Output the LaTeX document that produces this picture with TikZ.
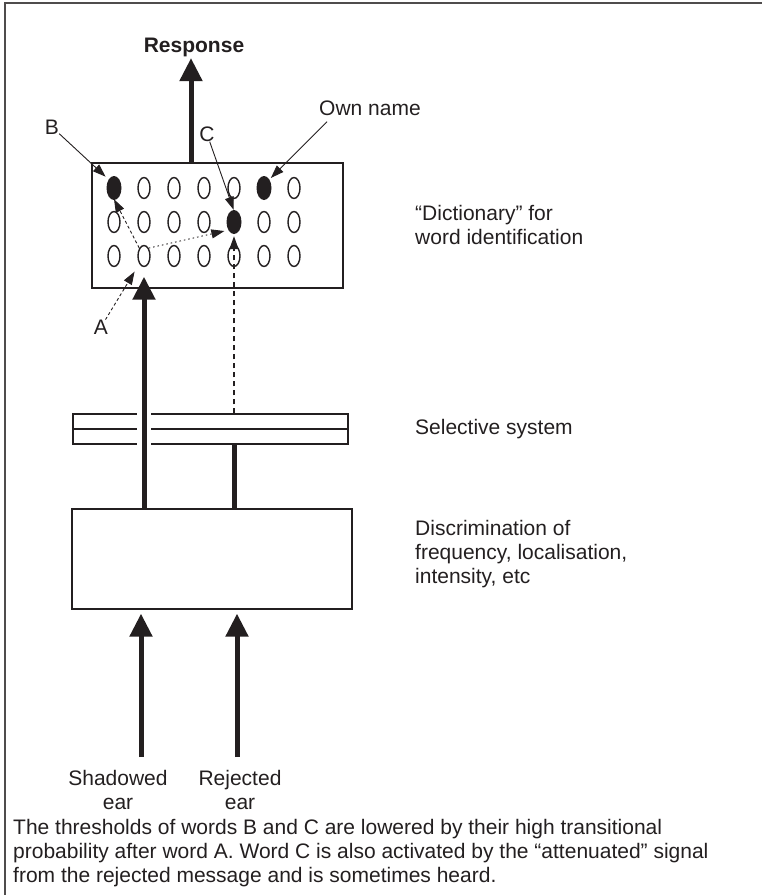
\documentclass[tikz,border=0pt]{standalone}
\usepackage{fontspec}
\setmainfont{Liberation Sans}
\usetikzlibrary{arrows.meta,shapes.geometric}
\definecolor{encre}{RGB}{35,31,32}

\begin{document}
\begin{tikzpicture}[x=1pt,y=-1pt,
		font=\fontsize{21}{24}\selectfont,
		boite/.style={draw=encre,line width=1.3pt,inner sep=0pt},
		mot/.style={ellipse,draw=encre,line width=1.4pt,minimum width=12pt,minimum height=21pt,inner sep=0pt},
		grosse/.style={draw=encre,line width=5pt,-{Triangle[width=22pt,length=23pt]}},
		fine/.style={draw=encre,line width=0.9pt,-{Triangle[width=9pt,length=13pt]}},
		etiq/.style={inner sep=0pt,text=encre}]
		
		\useasboundingbox (0,0) rectangle (762,895);
		
		% Cadre
		\draw[encre!80,line width=2pt] (5,895) -- (5,3) -- (762,3);
		
		% Dictionnaire (mots)
		\node[boite,minimum width=251pt,minimum height=125pt] (dict) at (217.5,225.5) {};
		\foreach \r/\y in {1/188,2/222,3/256}
		\foreach \c in {1,...,7}
		\node[mot] (w\r\c) at ({114+30*(\c-1)},\y) {};
		
		% Mots actives
		\foreach \n in {w11,w16,w25}
		\fill[encre] (\n) ellipse (7.5 and 12);
		
		% Reponse
		\node[etiq,font=\fontsize{21}{24}\selectfont\bfseries] (resp) at (194,47) {Response};
		\draw[grosse,shorten >=1.5pt] ([xshift=-26.5pt]dict.north) -- ([xshift=-3pt]resp.south);
		
		% Systeme selectif
		\node[boite,minimum width=275pt,minimum height=30pt] (sel) at (210.5,429) {};
		\draw[encre,line width=1.3pt] (sel.west) -- (sel.east);
		\fill[white] (137,410) rectangle (151,448);
		
		% Discrimination
		\node[boite,minimum width=280pt,minimum height=100pt] (disc) at (212,559) {};
		
		% Oreilles
		\node[etiq,align=center] (sh) at (118,790) {Shadowed\\ear};
		\node[etiq,align=center] (rj) at (240,790) {Rejected\\ear};
		\coordinate (shin) at (141,757);
		\coordinate (rjin) at (237,757);
		\draw[grosse,shorten >=4pt] (shin) -- (shin |- disc.south);
		\draw[grosse,shorten >=4pt] (rjin) -- (rjin |- disc.south);
		
		% Canaux
		\draw[grosse] (disc.north -| w32) -- ([yshift=-9.5pt]w32.south);
		\draw[encre,line width=5pt] (sel.south -| w35) -- (disc.north -| w35);
		\draw[fine,line width=1.3pt,dash pattern=on 5pt off 4pt,shorten >=3pt] (sel.north -| w35) -- (w25.south);
		
		% Etiquettes A, B, C
		\node[etiq] (lb) at (52,127) {B};
		\node[etiq] (lc) at (207,134) {C};
		\node[etiq] (lo) at (370,108) {Own name};
		\node[etiq] (la) at (101,327) {A};
		\draw[fine,shorten >=5pt] (lb) -- (w11.north west);
		\draw[fine,shorten >=1pt] (lc) -- (w25.north);
		\draw[fine,shorten >=3pt] ([xshift=8pt,yshift=-6pt]lo.south west) -- (w16.north east);
		\draw[fine,dash pattern=on 3pt off 2.5pt,shorten >=9pt] (la) -- (w32.south west);
		
		% Transitions A -> B, A -> C
		\draw[fine,dash pattern=on 3pt off 2.5pt] (w32.north west) -- (w11.south);
		\draw[fine,dash pattern=on 1.5pt off 3pt,shorten >=5pt] (w32.north east) -- (w25.south west);
		
		% Textes a droite
		\node[etiq,anchor=west,align=left] (ldict) at (415,225) {“Dictionary” for\\word identification};
		\node[etiq,anchor=west] (lsel) at (415,429) {Selective system};
		\node[etiq,anchor=north west,align=left] (ldisc) at (415,520) {Discrimination of\\frequency, localisation,\\intensity, etc};
		
		% Legende
		\node[etiq,anchor=north west,align=left] (legende) at (13,819) {The thresholds of words B and C are lowered by their high transitional\\probability after word A. Word C is also activated by the “attenuated” signal\\from the rejected message and is sometimes heard.};
		
	\end{tikzpicture}
\end{document}
